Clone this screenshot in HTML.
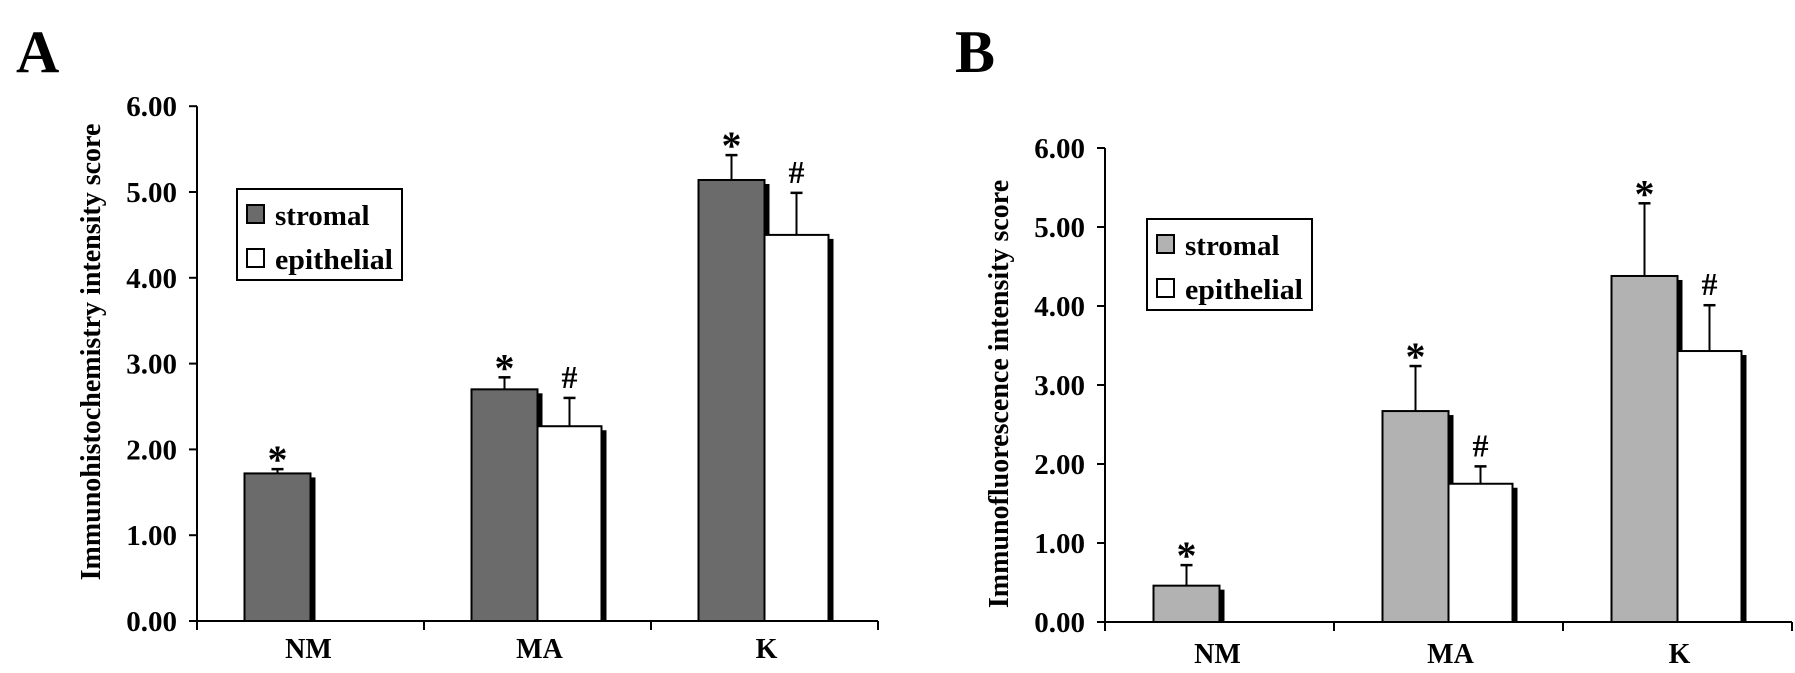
<!DOCTYPE html>
<html><head><meta charset="utf-8"><style>
html,body{margin:0;padding:0;background:#fff;}
svg{display:block;font-family:"Liberation Serif",serif;font-weight:bold;}
</style></head><body>
<svg id="fig" width="1795" height="673" viewBox="0 0 1795 673"></svg>
<script>
const categories = ["NM","MA","K"];
const yTicks = ["0.00","1.00","2.00","3.00","4.00","5.00","6.00"];
const stromalA = [1.72, 2.70, 5.14];
const stromalErrA = [0.05, 0.14, 0.29];
const epithelialA = [null, 2.27, 4.50];
const epithelialErrA = [null, 0.33, 0.49];
const stromalB = [0.46, 2.67, 4.38];
const stromalErrB = [0.26, 0.57, 0.92];
const epithelialB = [null, 1.75, 3.43];
const epithelialErrB = [null, 0.22, 0.58];

const NS = "http://www.w3.org/2000/svg";
const svg = document.getElementById("fig");
function mk(tag, attrs, parent, text){
  const e = document.createElementNS(NS, tag);
  for (const k in attrs) e.setAttribute(k, attrs[k]);
  if (text !== undefined) e.textContent = text;
  (parent || svg).appendChild(e);
  return e;
}

function panel(cfg){
  const g = mk("g", {});
  
  
  const x0 = cfg.x0, x1 = cfg.x1, y0 = cfg.y0, unit = cfg.unit;
  const y = v => y0 - v*unit;
  const catW = (x1 - x0)/categories.length;
  const cx = i => x0 + catW*(i+0.5);

  const L = mk("text", {x: cfg.letterX, y: 72, "font-size": 60}, g, cfg.letter);
  
  

  const ya = mk("line", {x1: x0, y1: y(6), x2: x0, y2: y0+1, stroke: "#000", "stroke-width": 2}, g);
  
  
  yTicks.forEach((t, i) => {
    const v = parseFloat(t);
    mk("line", {x1: x0-8, y1: y(v), x2: x0, y2: y(v), stroke: "#000", "stroke-width": 2}, g);
    const tl = mk("text", {x: x0-20, y: y(v)+10, "font-size": 29, "text-anchor": "end"}, g, t);
    
    
  });
  const xa = mk("line", {x1: x0, y1: y0, x2: x1, y2: y0, stroke: "#000", "stroke-width": 2}, g);
  
  
  for (let i = 0; i <= categories.length; i++) {
    mk("line", {x1: x0+catW*i, y1: y0, x2: x0+catW*i, y2: y0+9, stroke: "#000", "stroke-width": 2}, g);
  }
  categories.forEach((c, i) => {
    const xl = mk("text", {x: cx(i)+(i==0?-2:2), y: cfg.labelY, "font-size": 28, "text-anchor": "middle"}, g, c);
    
    
  });
  const yt = mk("text", {x: 0, y: 0, "font-size": 28, "text-anchor": "middle",
    transform: `translate(${cfg.titleX},${cfg.titleY}) rotate(-90)`}, g, cfg.title);
  
  

  function bar(left, w, v, err, fill, mark, name){
    const top = y(v);
    const mid = left + w/2;
    const eb = mk("line", {x1: mid, y1: y(v+err), x2: mid, y2: top, stroke: "#000", "stroke-width": 2}, g);
    
    
    mk("line", {x1: mid-6, y1: y(v+err), x2: mid+6, y2: y(v+err), stroke: "#000", "stroke-width": 2.5}, g);
    mk("rect", {x: left+w, y: top+4, width: 5, height: y0-top-4, fill: "#000"}, g);
    const r = mk("rect", {x: left, y: top, width: w, height: y0-top, fill: fill, stroke: "#000", "stroke-width": 2}, g);
    
    
    const m = mk("text", {x: mid, y: y(v+err) - (mark=="*"? -4 : 10), "font-size": mark=="*"?40:32, "text-anchor": "middle"}, g, mark);
    
    
  }
  categories.forEach((c, i) => {
    const w = 66;
    bar(cx(i)-w, w, cfg.s[i], cfg.se[i], cfg.fill, "*", "bar-stromal-" + c.toLowerCase());
    if (cfg.e[i] !== null) bar(cx(i), 64, cfg.e[i], cfg.ee[i], "#fff", "#", "bar-epithelial-" + c.toLowerCase());
  });

  const lg = mk("g", {}, g);
  
  
  const lx = cfg.legX, ly = cfg.legY;
  mk("rect", {x: lx, y: ly, width: 165, height: 91, fill: "#fff", stroke: "#000", "stroke-width": 2}, lg);
  mk("rect", {x: lx+10, y: ly+16, width: 17, height: 18, fill: cfg.fill, stroke: "#000", "stroke-width": 2}, lg);
  const t1 = mk("text", {x: lx+38, y: ly+36, "font-size": 29}, lg, "stromal");
  
  
  mk("rect", {x: lx+10, y: ly+60, width: 17, height: 18, fill: "#fff", stroke: "#000", "stroke-width": 2}, lg);
  const t2 = mk("text", {x: lx+38, y: ly+80, "font-size": 29, textLength: 118, lengthAdjust: "spacingAndGlyphs"}, lg, "epithelial");
  
  
}

panel({name: "chart-a", letter: "A", letterX: 16, x0: 197, x1: 878, y0: 621, unit: 85.8,
  labelY: 658, title: "Immunohistochemistry intensity score", titleX: 100, titleY: 352,
  s: stromalA, se: stromalErrA, e: epithelialA, ee: epithelialErrA, fill: "#6b6b6b", legX: 237, legY: 189});
panel({name: "chart-b", letter: "B", letterX: 955, x0: 1105, x1: 1792, y0: 622, unit: 79,
  labelY: 663, title: "Immunofluorescence intensity score", titleX: 1008, titleY: 394,
  s: stromalB, se: stromalErrB, e: epithelialB, ee: epithelialErrB, fill: "#b2b2b2", legX: 1147, legY: 219});
</script>
</body></html>
